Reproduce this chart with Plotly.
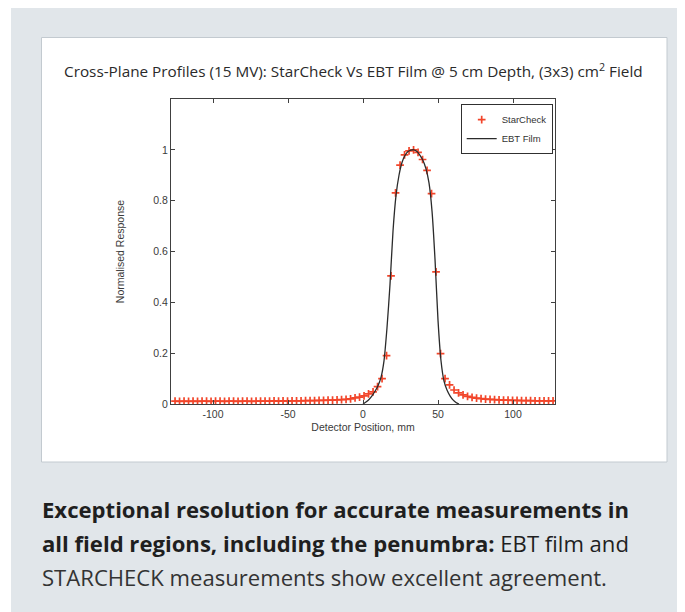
import plotly.graph_objects as go

# ---------------- data ----------------
starcheck_x = [-125.3, -122.3, -119.3, -116.3, -113.3, -110.3, -107.3, -104.3, -101.3, -98.3,
               -95.3, -92.3, -89.3, -86.3, -83.3, -80.3, -77.3, -74.3, -71.3, -68.3,
               -65.3, -62.3, -59.3, -56.3, -53.3, -50.3, -47.3, -44.3, -41.3, -38.3,
               -35.3, -32.3, -29.3, -26.3, -23.3, -20.3, -17.3, -14.3, -11.3, -8.3,
               -5.3, -2.3, 0.7, 3.7, 6.7, 9.7, 12.7, 15.7, 18.7, 21.7,
               24.7, 27.7, 30.7, 33.7, 36.7, 39.7, 42.7, 45.7, 48.7, 51.7,
               54.7, 57.7, 60.7, 63.7, 66.7, 69.7, 72.7, 75.7, 78.7, 81.7,
               84.7, 87.7, 90.7, 93.7, 96.7, 99.7, 102.7, 105.7, 108.7, 111.7,
               114.7, 117.7, 120.7, 123.7, 126.7]
starcheck_y = [0.011, 0.010, 0.011, 0.010, 0.011, 0.010, 0.011, 0.011, 0.010, 0.011,
               0.011, 0.010, 0.011, 0.011, 0.010, 0.011, 0.011, 0.010, 0.011, 0.011,
               0.011, 0.011, 0.012, 0.011, 0.012, 0.011, 0.012, 0.012, 0.012, 0.013,
               0.013, 0.013, 0.014, 0.014, 0.015, 0.015, 0.016, 0.017, 0.018, 0.020,
               0.024, 0.027, 0.032, 0.040, 0.048, 0.068, 0.100, 0.190, 0.504, 0.831,
               0.940, 0.980, 0.996, 1.000, 0.990, 0.962, 0.919, 0.828, 0.520, 0.198,
               0.100, 0.075, 0.055, 0.044, 0.036, 0.030, 0.026, 0.023, 0.021, 0.019,
               0.018, 0.017, 0.016, 0.015, 0.015, 0.014, 0.014, 0.013, 0.013, 0.013,
               0.012, 0.012, 0.012, 0.012, 0.012]

film_x = [0, 2, 4, 6, 8, 10, 12, 14, 16, 18, 20, 22, 24, 26, 28, 30, 32, 34,
          36, 38, 40, 42, 44, 46, 48, 50, 52, 54, 56, 58, 60, 62, 64]
film_y = [0.0, 0.008, 0.018, 0.032, 0.05, 0.072, 0.105, 0.17, 0.30, 0.47, 0.68, 0.82,
          0.90, 0.95, 0.978, 0.993, 0.999, 1.0, 0.993, 0.978, 0.958, 0.925, 0.87,
          0.76, 0.57, 0.33, 0.17, 0.09, 0.055, 0.032, 0.016, 0.006, 0.0]

x_ticks = [-100, -50, 0, 50, 100]
y_ticks = [0, 0.2, 0.4, 0.6, 0.8, 1]

title_text = "Cross-Plane Profiles (15 MV): StarCheck Vs EBT Film @ 5 cm Depth, (3x3) cm<sup>2</sup> Field"
caption_lines = [
    "<b>Exceptional resolution for accurate measurements in</b>",
    "<b>all field regions, including the penumbra:</b> EBT film and",
    "STARCHECK measurements show excellent agreement.",
]

# ---------------- layout geometry (screen pixels) ----------------
OFF = 8                      # page body margin
W, H = 685 - OFF, 612 - OFF  # figure size in the window
PL, PR, PT, PB = 171, 555, 99, 404  # plot area box in screen px


def fx(px):
    return (px - PL) / (PR - PL)


def fy(py):
    return (PB - py) / (PB - PT)


fig = go.Figure()

fig.add_trace(go.Scatter(
    x=starcheck_x, y=starcheck_y, mode="markers", name="StarCheck",
    marker=dict(symbol="cross-thin", size=5.5, line=dict(color="#f2452a", width=1.7),
                color="#f2452a"),
))
fig.add_trace(go.Scatter(
    x=film_x, y=film_y, mode="lines", name="EBT Film",
    line=dict(color="#2b2b2b", width=1.3, shape="spline", smoothing=0.6),
))

axfont = dict(family="Liberation Sans, Arial", size=10.5, color="#3a3a3a")
axis_common = dict(
    showgrid=False, zeroline=False, showline=True, linecolor="#404040", linewidth=1,
    mirror="allticks", ticks="inside", ticklen=4, tickcolor="#404040", tickwidth=1,
    tickfont=axfont,
)

fig.update_layout(
    width=W, height=H,
    margin=dict(l=PL - OFF, r=685 - PR, t=PT - OFF, b=612 - PB, pad=0),
    paper_bgcolor="white", plot_bgcolor="rgba(0,0,0,0)",
    showlegend=True,
    legend=dict(
        x=0.994, y=0.983, xanchor="right", yanchor="top",
        bgcolor="white", bordercolor="#303030", borderwidth=1,
        font=dict(family="Liberation Sans, Arial", size=9.5, color="#333333"),
        tracegroupgap=0, itemwidth=30,
    ),
    xaxis=dict(range=[-128, 128], tickvals=x_ticks, ticktext=[str(v) for v in x_ticks],
               title=dict(text="Detector Position, mm", standoff=5, font=axfont),
               **axis_common),
    yaxis=dict(range=[0, 1.2], tickvals=y_ticks, ticktext=["0", "0.2", "0.4", "0.6", "0.8", "1"],
               title=dict(text="Normalised Response", standoff=26, font=axfont),
               **axis_common),
    shapes=[
        dict(type="rect", xref="paper", yref="paper", layer="below",
             x0=fx(11), x1=fx(700), y0=fy(630), y1=fy(8),
             fillcolor="#e1e6ea", line=dict(width=0)),
        dict(type="rect", xref="paper", yref="paper", layer="below",
             x0=fx(41.5), x1=fx(667), y0=fy(462), y1=fy(37.5),
             fillcolor="white", line=dict(color="#c3cad0", width=1)),
    ],
)

annotations = [
    dict(text=title_text, xref="paper", yref="paper", x=fx(353), y=fy(70),
         xanchor="center", yanchor="middle", showarrow=False,
         font=dict(family="Open Sans", size=15.3, color="#2a2a2a")),
]
cap_y = [509, 543, 577]
cap_col = ["#1f1f1f", "#1f1f1f", "#333333"]
for line, yy, cc in zip(caption_lines, cap_y, cap_col):
    annotations.append(dict(text=line, xref="paper", yref="paper", x=fx(40), y=fy(yy),
                            xanchor="left", yanchor="middle", showarrow=False,
                            font=dict(family="Open Sans", size=22.1, color=cc)))
fig.update_layout(annotations=annotations)

fig.write_html("out.html")
